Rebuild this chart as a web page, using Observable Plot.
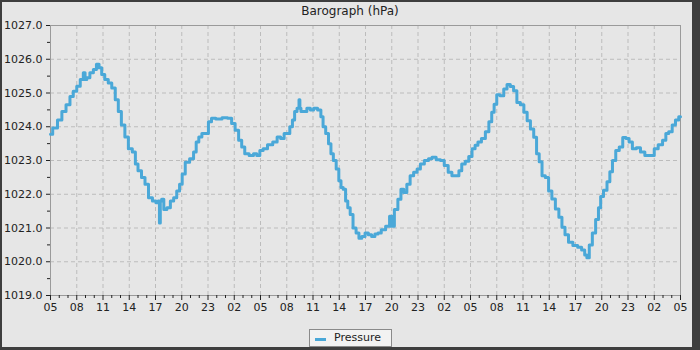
<!DOCTYPE html>
<html>
<head>
<meta charset="utf-8">
<script src="https://cdn.jsdelivr.net/npm/d3@7"></script>
<script src="https://cdn.jsdelivr.net/npm/@observablehq/plot@0.6"></script>
<style>
  html, body { margin: 0; padding: 0; background: #e6e6e6; }
  #wrap { position: relative; width: 700px; height: 350px; background: #e6e6e6; overflow: hidden; font-family: "DejaVu Sans", sans-serif; }
  #chart { position: absolute; left: 0; top: 0; }
  #title { position: absolute; left: 0; top: 4px; width: 700px; text-align: center; font-size: 12px; color: #222; }
  #legend { position: absolute; left: 309px; top: 329px; width: 81px; height: 16px; border: 1px solid #8a8a8a; background: #f2f2f2; font-size: 11px; color: #222; }
  #legend .sw { position: absolute; left: 5px; top: 8px; width: 11px; height: 3px; background: #4aa8d8; }
  #legend .lb { position: absolute; left: 24px; top: 1px; }
  #border { position: absolute; left: 0; top: 0; width: 700px; height: 350px; box-sizing: border-box; border-style: solid; border-color: #3e3e3e; border-width: 2px 8px 3px 2px; pointer-events: none; }
</style>
</head>
<body>
<div id="wrap">
  <div id="chart"></div>
  <div id="title">Barograph (hPa)</div>
  <div id="legend"><span class="sw"></span><span class="lb">Pressure</span></div>
  <div id="border"></div>
</div>
<script>
// Hours since the first tick (05:00), and pressure in hPa
const hours = [0.0,0.5,1.1,1.5,2.05,2.4,2.8,3.2,3.6,3.9,4.0,4.3,4.7,5.1,5.4,5.7,6.0,6.4,6.8,7.2,7.6,7.9,8.3,8.7,9.1,9.6,9.8,10.2,10.6,11.0,11.4,11.9,12.2,12.4,12.5,12.6,12.8,13.1,13.5,13.9,14.25,14.6,14.9,15.2,15.6,16.2,16.5,16.8,17.1,17.5,17.9,18.2,18.6,19.2,20.0,20.5,20.9,21.3,21.7,22.0,22.4,23.0,23.4,23.75,24.1,24.5,25.1,25.7,26.1,26.5,26.9,27.2,27.5,27.8,28.0,28.35,28.45,28.55,28.7,29.1,29.5,29.9,30.25,30.8,31.0,31.3,31.6,31.95,32.15,32.5,32.8,33.1,33.3,33.6,33.85,34.1,34.4,34.75,35.1,35.4,35.75,36.15,36.5,36.9,37.25,37.6,38.0,38.6,38.9,39.1,39.5,39.9,40.2,40.55,40.9,41.3,41.7,42.1,42.45,43.0,43.4,43.8,44.35,44.8,45.2,45.7,46.05,46.55,46.8,47.2,47.6,48.0,48.35,48.7,49.0,49.5,49.9,50.3,50.55,50.85,51.15,51.6,52.0,52.35,52.75,53.1,53.5,53.9,54.3,54.65,55.05,55.4,55.7,56.0,56.35,56.75,57.1,57.5,57.9,58.3,58.6,59.0,59.4,60.0,60.5,60.9,61.2,61.4,61.75,62.1,62.5,62.75,63.0,63.4,63.8,64.05,64.4,64.8,65.2,65.6,65.95,66.3,66.7,67.2,67.65,68.2,68.8,69.2,69.7,70.2,70.45,70.85,71.25,71.6,72.0];
const pressure = [1023.78,1023.96,1024.2,1024.45,1024.65,1024.9,1025.05,1025.2,1025.4,1025.6,1025.4,1025.45,1025.6,1025.7,1025.85,1025.75,1025.55,1025.4,1025.3,1025.15,1024.8,1024.45,1024.05,1023.7,1023.35,1023.25,1022.9,1022.7,1022.5,1022.3,1021.9,1021.8,1021.75,1021.8,1021.15,1021.8,1021.85,1021.55,1021.6,1021.8,1021.9,1022.1,1022.3,1022.6,1022.95,1023.05,1023.25,1023.55,1023.7,1023.8,1023.8,1024.15,1024.25,1024.23,1024.27,1024.25,1024.1,1023.9,1023.6,1023.4,1023.2,1023.15,1023.2,1023.15,1023.3,1023.35,1023.47,1023.55,1023.7,1023.65,1023.8,1023.8,1024.0,1024.2,1024.45,1024.55,1024.8,1024.55,1024.45,1024.45,1024.55,1024.5,1024.55,1024.5,1024.3,1024.0,1023.8,1023.5,1023.2,1023.0,1022.75,1022.4,1022.2,1022.15,1021.8,1021.6,1021.4,1021.0,1020.85,1020.7,1020.75,1020.85,1020.8,1020.75,1020.82,1020.85,1020.95,1021.05,1021.35,1021.05,1021.55,1021.85,1022.15,1022.05,1022.3,1022.55,1022.65,1022.75,1022.9,1023.0,1023.05,1023.1,1023.02,1023.0,1022.85,1022.65,1022.55,1022.55,1022.7,1022.9,1022.98,1023.12,1023.35,1023.45,1023.55,1023.65,1023.85,1024.15,1024.43,1024.67,1024.95,1024.92,1025.12,1025.25,1025.19,1025.07,1024.72,1024.65,1024.43,1024.18,1023.93,1023.69,1023.2,1022.96,1022.55,1022.5,1022.1,1021.86,1021.56,1021.32,1021.02,1020.8,1020.58,1020.48,1020.43,1020.35,1020.2,1020.12,1020.5,1020.85,1021.25,1021.6,1021.93,1022.12,1022.37,1022.67,1023.0,1023.3,1023.4,1023.68,1023.65,1023.55,1023.35,1023.38,1023.25,1023.15,1023.15,1023.35,1023.47,1023.6,1023.8,1023.85,1024.05,1024.2,1024.3];

const startHour = 5;
const xMajor = d3.range(0, 73, 3);
const xMinor = d3.range(0, 73, 1).filter(d => d % 3 !== 0);
const yMajor = d3.range(1019, 1028, 1);
const yMinor = d3.range(1019.5, 1027, 1);

const data = hours.map((h, i) => ({h, p: pressure[i]}));
const fmtHour = d => String((startHour + d) % 24).padStart(2, "0");

const chart = Plot.plot({
  width: 700,
  height: 350,
  marginLeft: 50,
  marginRight: 20,
  marginTop: 25,
  marginBottom: 55,
  style: {background: "transparent", fontFamily: "DejaVu Sans, sans-serif", fontSize: "11px", color: "#222"},
  x: {domain: [0, 72], label: null},
  y: {domain: [1019, 1027], label: null},
  marks: [
    Plot.gridX(xMajor.slice(1, -1), {stroke: "#bcbcbc", strokeOpacity: 1, strokeDasharray: "4,3"}),
    Plot.gridY(yMajor.slice(1, -1), {stroke: "#bcbcbc", strokeOpacity: 1, strokeDasharray: "4,3"}),
    Plot.frame({stroke: "#9a9a9a"}),
    Plot.axisY(yMajor, {tickSize: 4, tickPadding: 4, tickFormat: d => d.toFixed(1), stroke: "#222", fill: "#222", fontSize: 11}),
    Plot.axisY(yMinor, {tickSize: 3, tickFormat: () => "", stroke: "#222"}),
    Plot.axisX(xMajor, {tickSize: 5, tickPadding: 3, tickFormat: fmtHour, stroke: "#222", fill: "#222", fontSize: 11}),
    Plot.axisX(xMinor, {tickSize: 3, tickFormat: () => "", stroke: "#222"}),
    Plot.line(data, {x: "h", y: "p", curve: "step", stroke: "#4aa8d8", strokeWidth: 3})
  ]
});
document.getElementById("chart").appendChild(chart);
</script>
</body>
</html>
